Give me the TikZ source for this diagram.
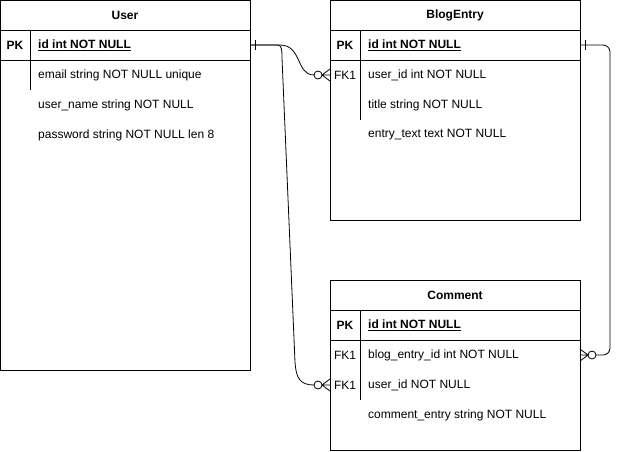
\documentclass[tikz,border=0pt]{standalone}
\usepackage{fontspec}
\setmainfont{Liberation Sans}
\usetikzlibrary{calc}

\tikzset{
  tbl/.style={line width=1pt},
  hdr/.style={font=\fontsize{12}{14}\selectfont\bfseries},
  key/.style={font=\fontsize{12}{14}\selectfont, inner sep=0pt},
  fld/.style={font=\fontsize{12}{14}\selectfont, anchor=west, inner sep=0pt},
  rel/.style={line width=0.8pt},
  onebar/.pic={\draw[rel] (5pt,-5pt) -- (5pt,5pt);},
  crowzero/.pic={
    \draw[rel] (0pt,-6pt) -- (8pt,0pt) -- (0pt,6pt) (0pt,0pt) -- (8pt,0pt);
    \draw[rel, fill=white] (12pt,0pt) circle[radius=4pt];
  }
}

\begin{document}
\begin{tikzpicture}[x=1pt,y=-1pt]
\useasboundingbox (0,0) rectangle (620,451);

% Define points
\coordinate (user-id) at (250,45);
\coordinate (blog-id) at (580,45);
\coordinate (blog-user) at (330,75);
\coordinate (com-blog) at (580,355);
\coordinate (com-user) at (330,385);

% Draw tables
\draw[tbl] (0.5,0.5) rectangle (250,370);
\draw[tbl] (0.5,30) -- (250,30) (0.5,60) -- (250,60) (30,30) -- (30,90);
\draw[tbl] (330,0.5) rectangle (580,220);
\draw[tbl] (330,30) -- (580,30) (330,60) -- (580,60) (360,30) -- (360,120);
\draw[tbl] (330,280) rectangle (580,450.5);
\draw[tbl] (330,310) -- (580,310) (330,340) -- (580,340) (360,310) -- (360,400);

% Labels
\node[hdr] (user) at (125,15) {User};
\node[key, font=\fontsize{12}{14}\selectfont\bfseries] (user-pk) at (15,45) {PK};
\node[fld, font=\fontsize{12}{14}\selectfont\bfseries] (user-f1) at (38,45) {\underline{id int NOT NULL}};
\node[fld] (user-f2) at (38,75) {email string NOT NULL unique};
\node[fld] (user-f3) at (38,105) {user\_name string NOT NULL};
\node[fld] (user-f4) at (38,135) {password string NOT NULL len 8};

\node[hdr] (blog) at (455,15) {BlogEntry};
\node[key, font=\fontsize{12}{14}\selectfont\bfseries] (blog-pk) at (345,45) {PK};
\node[key] (blog-fk) at (345,75) {FK1};
\node[fld, font=\fontsize{12}{14}\selectfont\bfseries] (blog-f1) at (368,45) {\underline{id int NOT NULL}};
\node[fld] (blog-f2) at (368,75) {user\_id int NOT NULL};
\node[fld] (blog-f3) at (368,105) {title string NOT NULL};
\node[fld] (blog-f4) at (368,135) {entry\_text text NOT NULL};

\node[hdr] (com) at (455,295) {Comment};
\node[key, font=\fontsize{12}{14}\selectfont\bfseries] (com-pk) at (345,325) {PK};
\node[key] (com-fk1) at (345,355) {FK1};
\node[key] (com-fk2) at (345,385) {FK1};
\node[fld, font=\fontsize{12}{14}\selectfont\bfseries] (com-f1) at (368,325) {\underline{id int NOT NULL}};
\node[fld] (com-f2) at (368,355) {blog\_entry\_id int NOT NULL};
\node[fld] (com-f3) at (368,385) {user\_id NOT NULL};
\node[fld] (com-f4) at (368,415) {comment\_entry string NOT NULL};

% Relations
\draw[rel] (user-id) -- ++(30,0) .. controls +(22,0) and +(-18,0) .. ($(blog-user)+(-16,0)$);
\draw[rel] (user-id) -- ++(28,0) .. controls +(4,0) and +(0,-6) .. (282,58)
  -- (295,362) .. controls (296,378) and (300,385) .. ($(com-user)+(-16,0)$);
\draw[rel, rounded corners=7pt] (blog-id) -- (610,45) -- (610,355) -- ($(com-blog)+(16,0)$);

% Ends
\path (user-id) pic {onebar};
\path (blog-id) pic {onebar};
\path (blog-user) pic[xscale=-1] {crowzero};
\path (com-user) pic[xscale=-1] {crowzero};
\path (com-blog) pic {crowzero};

\end{tikzpicture}
\end{document}
